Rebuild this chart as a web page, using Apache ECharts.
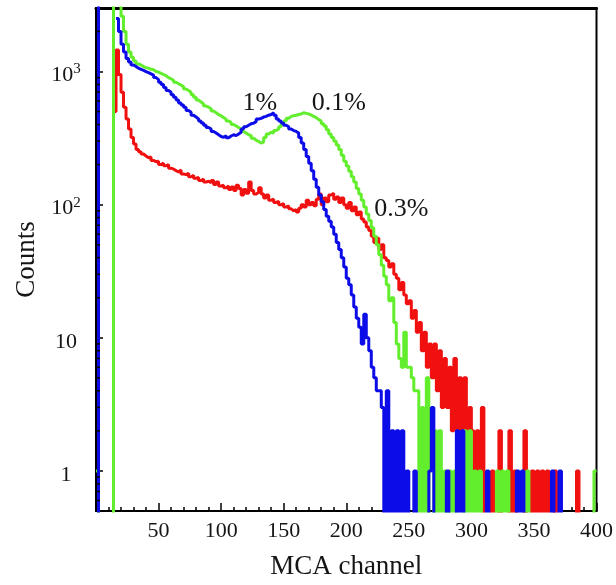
<!DOCTYPE html>
<html><head><meta charset="utf-8">
<script src="https://cdn.jsdelivr.net/npm/echarts@6/dist/echarts.min.js"></script>
<style>html,body{margin:0;padding:0;background:#fff}#c{width:616px;height:585px}</style>
</head><body><div id="c"></div>
<script>
// Histogram bins: 2 MCA channels per bin, bin i starts at channel 2*i
const BIN_WIDTH = 2;
// '-' = no data drawn; counts above 3000 are off-scale
const blueCounts = [
  5000, 0, '-', '-', '-', '-', '-', '-', 2500, 2000,
  1600, 1400, 1250, 1180, 1120, 1090, 1060, 1040, 1020, 1000,
  980, 960, 940, 900, 870, 830, 800, 760, 720, 700,
  670, 640, 610, 580, 560, 540, 510, 495, 470, 455,
  440, 425, 410, 395, 380, 370, 355, 345, 335, 325,
  320, 330, 318, 328, 335, 330, 340, 350, 370, 385,
  395, 405, 410, 420, 440, 445, 455, 460, 470, 475,
  490, 470, 440, 425, 410, 395, 385, 370, 360, 355,
  345, 320, 290, 260, 230, 205, 180, 155, 135, 118,
  105, 92, 82, 75, 68, 60, 52, 46, 40, 34,
  28, 25, 21, 17, 14, 12, 9, 15, 10, 8,
  6, 5, 4, 4, 3, 0, 4, 0, 2, 0,
  2, 0, 2, 0, 1, 0, 0, 1, 0, 0,
  0, 0, 0, 1, 3, 0, 0, 0, 0, 0,
  1, 0, 0, 0, 2, 0, 2, 0, 0, 0,
  0, 0, 0, 0, 0, 0, 1, 0, 0, 0,
  0, 0, 0, 0, 0, 0, 0, 0, 1, 0,
  1, 0, 0, 0, 0, 0, 0, 0, 0, 0,
  0, 0, 1, 0, 0, 1, 0, 0, 0, 0,
  0, 0, 0, 0, 0, 0, 0, 0, 0, 0
];
const greenCounts = [
  1, 0, 0, 0, 0, 0, 0, 5000, 5000, 5000,
  2600, 2000, 1600, 1400, 1280, 1200, 1140, 1120, 1090, 1070,
  1060, 1040, 1030, 1000, 990, 970, 950, 930, 900, 880,
  860, 830, 810, 790, 770, 740, 720, 700, 670, 640,
  610, 590, 570, 550, 540, 525, 505, 490, 475, 465,
  450, 440, 425, 415, 400, 390, 380, 370, 355, 345,
  335, 330, 315, 305, 298, 290, 295, 320, 340, 350,
  345, 360, 370, 385, 410, 425, 445, 460, 465, 470,
  475, 480, 490, 485, 480, 470, 460, 450, 435, 425,
  405, 390, 365, 340, 320, 300, 280, 260, 235, 212,
  195, 178, 162, 148, 132, 120, 108, 96, 85, 76,
  67, 58, 50, 42, 35, 29, 25, 19, 20, 13,
  9, 7, 6, 11, 6, 6, 5, 4, 4, 0,
  3, 0, 5, 0, 0, 2, 0, 2, 0, 1,
  0, 1, 0, 1, 0, 0, 0, 2, 0, 2,
  0, 1, 0, 1, 0, 0, 0, 0, 0, 0,
  1, 0, 1, 0, 1, 0, 0, 0, 0, 0,
  0, 0, 1, 0, 0, 0, 0, 0, 0, 0,
  0, 0, 0, 0, 0, 0, 0, 0, 0, 0,
  0, 0, 0, 0, 0, 0, 0, 0, 0, 1
];
const redCounts = [
  '-', '-', '-', '-', '-', '-', '-', 500, 1450, 950,
  700, 540, 440, 370, 320, 285, 260, 250, 240, 232,
  225, 228, 215, 210, 212, 200, 205, 196, 200, 188,
  185, 180, 176, 182, 170, 168, 172, 162, 166, 158,
  160, 152, 156, 148, 150, 146, 152, 142, 148, 138,
  140, 134, 138, 130, 136, 128, 140, 132, 118, 130,
  122, 148, 128, 120, 124, 134, 120, 112, 118, 108,
  110, 104, 106, 100, 102, 96, 98, 93, 90, 92,
  88, 94, 100, 96, 108, 100, 104, 98, 110, 120,
  100, 112, 105, 118, 122, 110, 114, 104, 112, 100,
  94, 104, 90, 96, 84, 88, 78, 74, 68, 64,
  58, 52, 56, 46, 50, 40, 38, 34, 36, 30,
  28, 23, 26, 21, 18, 19, 14, 16, 11, 13,
  8, 11, 6, 9, 5, 9, 4, 8, 3, 7,
  3, 6, 2, 7, 2, 5, 2, 5, 1, 3,
  2, 1, 2, 1, 3, 0, 0, 0, 1, 0,
  0, 2, 0, 0, 0, 2, 0, 1, 0, 0,
  0, 2, 0, 0, 1, 0, 1, 0, 1, 0,
  1, 0, 0, 1, 0, 0, 0, 0, 0, 0,
  0, 0, 1, 0, 0, 0, 0, 0, 0, 0
];
const xTickValues = [0, 50, 100, 150, 200, 250, 300, 350, 400];
const yMinorTicks = [0.6, 0.7, 0.8, 0.9, 2, 3, 4, 5, 6, 7, 8, 9,
  20, 30, 40, 50, 60, 70, 80, 90, 200, 300, 400, 500, 600, 700, 800, 900, 2000];
const annotText = ['1%', '0.1%', '0.3%'];
const annotChannel = [131, 194, 244];
const annotCount = [580, 580, 92];

const FONT = '"Liberation Serif", "Times New Roman", serif';
const TXT = '#151515';
const ZERO = 0.01; // empty bins lie below the axis floor

function toPoints(counts) {
  const pts = counts.map((v, i) => [i * BIN_WIDTH, v === '-' ? '-' : (v === 0 ? ZERO : v)]);
  pts.push([counts.length * BIN_WIDTH, pts[pts.length - 1][1]]);
  return pts;
}
function histSeries(name, counts, color) {
  return {
    name, type: 'line', step: 'end', data: toPoints(counts),
    showSymbol: false, symbol: 'none', clip: true, connectNulls: false,
    lineStyle: { color, width: 3 }, itemStyle: { color }, animation: false
  };
}

const chart = echarts.init(document.getElementById('c'), null, { renderer: 'canvas' });
chart.setOption({
  backgroundColor: '#fff',
  animation: false,
  grid: { left: 96, right: 16, top: 8, bottom: 73, show: true, borderColor: '#000', borderWidth: 2, backgroundColor: 'transparent' },
  xAxis: [{
    type: 'value', min: xTickValues[0], max: xTickValues[xTickValues.length - 1], interval: 50,
    axisLine: { show: true, onZero: false, lineStyle: { color: '#000', width: 2 } },
    axisTick: { show: true, inside: true, length: 8, lineStyle: { color: '#000', width: 1.5 } },
    minorTick: { show: true, splitNumber: 5, length: 4, lineStyle: { color: '#000', width: 1.5 } },
    axisLabel: { showMinLabel: false, margin: 9, fontFamily: FONT, fontSize: 22, color: TXT },
    splitLine: { show: false }, minorSplitLine: { show: false },
    name: 'MCA channel', nameLocation: 'middle', nameGap: 42,
    nameTextStyle: { fontFamily: FONT, fontSize: 27, color: TXT }
  }, {
    type: 'value', position: 'top', min: xTickValues[0], max: xTickValues[xTickValues.length - 1],
    axisLine: { show: true, onZero: false, lineStyle: { color: '#000', width: 3 } },
    axisTick: { show: false }, axisLabel: { show: false }, splitLine: { show: false }
  }],
  yAxis: {
    type: 'log', logBase: 10, min: 0.5, max: 3000,
    axisLine: { show: true, lineStyle: { color: '#000', width: 2 } },
    axisTick: { show: true, inside: true, length: 7, lineStyle: { color: '#000', width: 1.5 } },
    axisLabel: {
      margin: 30, align: 'center', fontFamily: FONT, fontSize: 22, color: TXT, padding: [8, 0, 0, 0],
      formatter: function (v) {
        const e = Math.log10(v), r = Math.round(e);
        if (Math.abs(e - r) > 1e-6) return '';
        if (r === 0) return '1';
        if (r === 1) return '10';
        return '10{sup|' + r + '}';
      },
      rich: { sup: { fontFamily: FONT, fontSize: 15, color: TXT, padding: [0, 0, 12, 0] } }
    },
    splitLine: { show: false },
    name: 'Counts', nameLocation: 'middle', nameGap: 56,
    nameTextStyle: { fontFamily: FONT, fontSize: 27, color: TXT }
  },
  series: [
    histSeries('0.3%', redCounts, '#f01010'),
    histSeries('0.1%', greenCounts, '#62ee2c'),
    histSeries('1%', blueCounts, '#0c0ce8'),
    {
      type: 'custom', name: 'yMinor', silent: true, z: 10, clip: false,
      data: yMinorTicks.map(v => [0, v]),
      renderItem: function (params, api) {
        const p = api.coord([0, api.value(1)]);
        return { type: 'line', shape: { x1: p[0], y1: p[1], x2: p[0] + 4, y2: p[1] },
          style: { stroke: '#000', lineWidth: 1.5 } };
      }
    },
    {
      type: 'scatter', name: 'labels', silent: true, symbolSize: 0, z: 20,
      itemStyle: { opacity: 1 },
      data: annotText.map((t, i) => ({ name: t, value: [annotChannel[i], annotCount[i]] })),
      label: { show: true, position: 'inside', formatter: '{b}', fontFamily: FONT, fontSize: 26, color: TXT, opacity: 1 }
    }
  ]
});
</script>
</body></html>
